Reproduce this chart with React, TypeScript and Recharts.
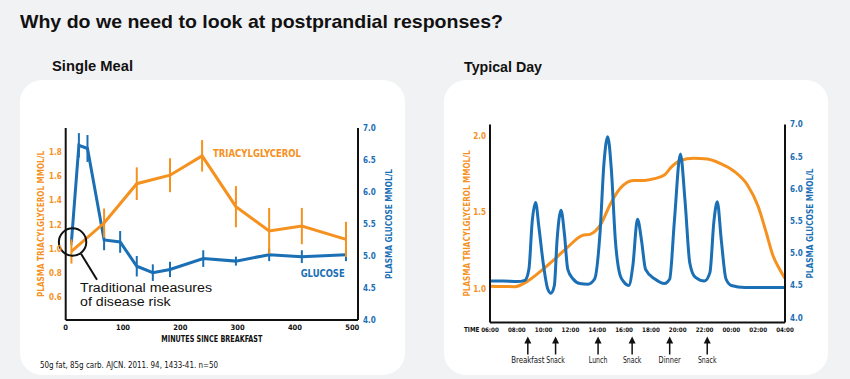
import {
  LineChart,
  Line,
  XAxis,
  YAxis,
  ErrorBar,
  ReferenceDot,
  ReferenceLine,
} from "recharts";

const ORANGE = "#f5911e";
const BLUE = "#1a6fb5";
const INK = "#111";
const SANS = "'Liberation Sans', Arial, sans-serif";
const NARROW =
  "'Liberation Sans Narrow', 'Arial Narrow', 'DejaVu Sans Condensed', 'Liberation Sans', sans-serif";

// single meal: minutes since breakfast
const glucoseMinutes = [10, 23, 38, 67, 95, 124, 152, 182, 240, 297, 355, 412, 489];
const glucoseValues = [5.22, 6.73, 6.68, 5.25, 5.22, 4.84, 4.74, 4.79, 4.96, 4.92, 5.02, 4.99, 5.02];
const glucoseErrors = [0.05, 0.19, 0.21, 0.16, 0.17, 0.16, 0.13, 0.12, 0.13, 0.07, 0.1, 0.1, 0.1];

const tagMinutes = [10, 67, 124, 182, 238, 297, 355, 412, 489];
const tagValues = [0.98, 1.215, 1.54, 1.61, 1.77, 1.35, 1.15, 1.19, 1.08];
const tagErrors = [0.1, 0.12, 0.135, 0.14, 0.13, 0.17, 0.19, 0.15, 0.145];

const minuteTicks = [0, 100, 200, 300, 400, 500];
const mealTagTicks = [0.6, 0.8, 1.0, 1.2, 1.4, 1.6, 1.8];
const mealGlucoseTicks = [4.0, 4.5, 5.0, 5.5, 6.0, 6.5, 7.0];

// typical day: hours since 06:00
const dayGlucoseHours = [
  0, 1, 2, 2.6, 2.9, 3.15, 3.4, 3.65, 4.0, 4.3, 4.55, 4.8, 5.0, 5.3, 5.55, 5.8, 6.2, 6.7, 7.3,
  7.8, 8.2, 8.5, 8.78, 9.05, 9.35, 9.7, 10.0, 10.35, 10.65, 11.0, 11.3, 11.6, 12.3, 13.0, 13.4,
  13.75, 14.2, 14.55, 14.9, 15.3, 16.0, 16.4, 16.7, 16.95, 17.25, 17.6, 18.0, 19.0, 22.0,
];
const dayGlucoseValues = [
  4.57, 4.57, 4.56, 4.58, 4.75, 5.5, 5.79, 5.4, 4.8, 4.45, 4.38, 4.5, 5.2, 5.67, 5.3, 4.75, 4.6,
  4.53, 4.52, 4.6, 5.3, 6.4, 6.81, 6.3, 5.2, 4.66, 4.55, 4.5, 4.8, 5.53, 5.2, 4.75, 4.6, 4.53,
  4.6, 5.5, 6.54, 5.8, 4.85, 4.63, 4.57, 4.7, 5.5, 5.8, 5.2, 4.6, 4.5, 4.47, 4.47,
];

const dayTagHours = [
  0, 1.87, 2.75, 3.74, 4.74, 5.74, 6.86, 7.5, 8.23, 9.0, 9.73, 10.7, 11.5, 12.2, 13.0, 13.5,
  14.2, 15.2, 16.2, 17.2, 18.2, 19.2, 20.0, 20.6, 21.1, 21.6, 22.0,
];
const dayTagValues = [
  1.02, 1.017, 1.05, 1.115, 1.19, 1.27, 1.35, 1.36, 1.42, 1.56, 1.66, 1.71, 1.71, 1.72, 1.745,
  1.795, 1.84, 1.855, 1.85, 1.82, 1.77, 1.68, 1.54, 1.37, 1.22, 1.13, 1.07,
];

const hourTicks = [0, 2, 4, 6, 8, 10, 12, 14, 16, 18, 20, 22];
const dayTagTicks = [1.0, 1.5, 2.0];
const dayGlucoseTicks = [4.0, 4.5, 5.0, 5.5, 6.0, 6.5, 7.0];

const mealTimes = [2.82, 4.89, 8.06, 10.6, 13.4, 16.2];
const mealLabels = ["Breakfast", "Snack", "Lunch", "Snack", "Dinner", "Snack"];

const glucoseData = glucoseMinutes.map((m, i) => ({ m, v: glucoseValues[i], e: glucoseErrors[i] }));
const tagData = tagMinutes.map((m, i) => ({ m, v: tagValues[i], e: tagErrors[i] }));
const dayGlucoseData = dayGlucoseHours.map((h, i) => ({ h, v: dayGlucoseValues[i] }));
const dayTagData = dayTagHours.map((h, i) => ({ h, v: dayTagValues[i] }));
const mealData = mealTimes.map((h) => ({ h, v: null }));

const clock = (h: number) => String((6 + h) % 24).padStart(2, "0") + ":00";

const axisLabel = (text: string, color: string, dx: number, len: number) => (props: any) => {
  const vb = props.viewBox;
  const cx = vb.x + dx;
  const cy = vb.y + vb.height / 2;
  return (
    <text
      x={cx}
      y={cy}
      transform={`rotate(-90 ${cx} ${cy})`}
      textAnchor="middle"
      dominantBaseline="central"
      fill={color}
      fontSize={9.5}
      fontWeight={700}
      fontFamily={NARROW}
      textLength={len}
      lengthAdjust="spacingAndGlyphs"
    >
      {text}
    </text>
  );
};

const MealTick = (props: any) => {
  const { x, y, payload } = props;
  const label = mealLabels[mealTimes.indexOf(payload.value)] || "";
  return (
    <g>
      <line x1={x} y1={y + 4} x2={x} y2={y + 18} stroke={INK} strokeWidth={1.5} />
      <path d={`M${x - 3.5},${y + 7} L${x},${y} L${x + 3.5},${y + 7} Z`} fill={INK} />
      <text
        x={x}
        y={y + 26}
        textAnchor="middle"
        fontSize={8.5}
        fontFamily={NARROW}
        fill={INK}
        textLength={label.length * 3.7}
        lengthAdjust="spacingAndGlyphs"
      >
        {label}
      </text>
    </g>
  );
};

const tickStyle = (color: string, size: number) => ({
  fill: color,
  fontSize: size,
  fontWeight: 700,
  fontFamily: NARROW,
});

const panel = (left: number, width: number) => ({
  position: "absolute" as const,
  left,
  top: 80,
  width,
  height: 295,
  background: "#fff",
  borderRadius: 22,
});

export default function App() {
  return (
    <div
      style={{
        position: "absolute",
        left: 0,
        top: 0,
        width: 850,
        height: 379,
        background: "#f1f2f4",
        overflow: "hidden",
        fontFamily: SANS,
      }}
    >
      <div style={panel(20, 385)} />
      <div style={panel(444, 384)} />

      <div style={{ position: "absolute", left: 20, top: 80 }}>
        <LineChart width={385} height={295} margin={{ top: 48, right: 17, bottom: 29, left: 15.7 }}>
          <XAxis
            type="number"
            dataKey="m"
            domain={[0, 510]}
            ticks={minuteTicks}
            interval={0}
            tickLine={false}
            tickSize={0}
            tickMargin={5}
            height={26}
            axisLine={{ stroke: INK, strokeWidth: 2 }}
            tick={tickStyle(INK, 7.5)}
            label={{
              content: (p: any) => (
                <text
                  x={p.viewBox.x + p.viewBox.width / 2}
                  y={p.viewBox.y + 22.3}
                  textAnchor="middle"
                  fontSize={8.5}
                  fontWeight={700}
                  fontFamily={NARROW}
                  fill={INK}
                  textLength={101}
                  lengthAdjust="spacingAndGlyphs"
                >
                  MINUTES SINCE BREAKFAST
                </text>
              ),
            }}
          />
          <YAxis
            yAxisId="left"
            type="number"
            domain={[0.414, 2.0]}
            ticks={mealTagTicks}
            interval={0}
            width={30}
            tickLine={false}
            tickSize={0}
            tickMargin={4}
            axisLine={{ stroke: INK, strokeWidth: 2 }}
            tick={tickStyle(ORANGE, 8)}
            tickFormatter={(v: number) => v.toFixed(1)}
            label={{ content: axisLabel("PLASMA TRIACYLGLYCEROL MMOL/L", ORANGE, 4.3, 146) }}
          />
          <YAxis
            yAxisId="right"
            orientation="right"
            type="number"
            domain={[4, 7]}
            ticks={mealGlucoseTicks}
            interval={0}
            width={30}
            tickLine={false}
            tickSize={0}
            tickMargin={5}
            axisLine={{ stroke: INK, strokeWidth: 2 }}
            tick={tickStyle(BLUE, 8)}
            tickFormatter={(v: number) => v.toFixed(1)}
            label={{ content: axisLabel("PLASMA GLUCOSE MMOL/L", BLUE, 30, 110) }}
          />
          <Line
            yAxisId="right"
            data={glucoseData}
            dataKey="v"
            type="linear"
            stroke={BLUE}
            strokeWidth={3}
            dot={false}
            isAnimationActive={false}
          >
            <ErrorBar dataKey="e" direction="y" width={0} stroke={BLUE} strokeWidth={2} isAnimationActive={false} />
          </Line>
          <Line
            yAxisId="left"
            data={tagData}
            dataKey="v"
            type="linear"
            stroke={ORANGE}
            strokeWidth={3}
            dot={false}
            isAnimationActive={false}
          >
            <ErrorBar dataKey="e" direction="y" width={0} stroke={ORANGE} strokeWidth={2} isAnimationActive={false} />
          </Line>
          <ReferenceDot yAxisId="left" x={12} y={1.058} r={13.7} fill="none" stroke={INK} strokeWidth={2} />
          <ReferenceLine
            yAxisId="left"
            segment={[
              { x: 26.7, y: 0.961 },
              { x: 54.6, y: 0.746 },
            ]}
            stroke={INK}
            strokeWidth={2}
          />
        </LineChart>
      </div>

      <div style={{ position: "absolute", left: 444, top: 80 }}>
        <LineChart width={384} height={295} margin={{ top: 44.5, right: 13, bottom: 8.5, left: 16 }}>
          <XAxis
            type="number"
            dataKey="h"
            domain={[0, 22]}
            ticks={hourTicks}
            interval={0}
            tickLine={false}
            tickSize={0}
            tickMargin={5}
            height={14}
            axisLine={{ stroke: INK, strokeWidth: 2 }}
            tick={tickStyle(INK, 6.2)}
            tickFormatter={clock}
          />
          <XAxis
            xAxisId="meals"
            type="number"
            dataKey="h"
            domain={[0, 22]}
            ticks={mealTimes}
            interval={0}
            axisLine={false}
            tickLine={false}
            tickSize={0}
            tickMargin={0}
            height={30}
            tick={<MealTick />}
          />
          <YAxis
            yAxisId="left"
            type="number"
            domain={[0.783, 2.075]}
            ticks={dayTagTicks}
            interval={0}
            width={30}
            tickLine={false}
            tickSize={0}
            tickMargin={4}
            axisLine={{ stroke: INK, strokeWidth: 2 }}
            tick={tickStyle(ORANGE, 8)}
            tickFormatter={(v: number) => v.toFixed(1)}
            label={{ content: axisLabel("PLASMA TRIACYLGLYCEROL MMOL/L", ORANGE, 6.7, 146) }}
          />
          <YAxis
            yAxisId="right"
            orientation="right"
            type="number"
            domain={[3.925, 7.0]}
            ticks={dayGlucoseTicks}
            interval={0}
            width={30}
            tickLine={false}
            tickSize={0}
            tickMargin={5}
            axisLine={{ stroke: INK, strokeWidth: 2 }}
            tick={tickStyle(BLUE, 8)}
            tickFormatter={(v: number) => v.toFixed(1)}
            label={{ content: axisLabel("PLASMA GLUCOSE MMOL/L", BLUE, 24, 110) }}
          />
          <Line
            yAxisId="left"
            data={dayTagData}
            dataKey="v"
            type="monotone"
            stroke={ORANGE}
            strokeWidth={3}
            dot={false}
            isAnimationActive={false}
          />
          <Line
            yAxisId="right"
            data={dayGlucoseData}
            dataKey="v"
            type="monotone"
            stroke={BLUE}
            strokeWidth={3}
            dot={false}
            isAnimationActive={false}
          />
          <Line
            xAxisId="meals"
            yAxisId="left"
            data={mealData}
            dataKey="v"
            stroke="none"
            dot={false}
            legendType="none"
            isAnimationActive={false}
          />
        </LineChart>
      </div>

      <svg width={850} height={379} style={{ position: "absolute", left: 0, top: 0, pointerEvents: "none" }}>
        <text x={20} y={28} fontSize={19} fontWeight={700} fontFamily={SANS} fill={INK} textLength={483} lengthAdjust="spacingAndGlyphs">
          Why do we need to look at postprandial responses?
        </text>
        <text x={52} y={71} fontSize={15} fontWeight={700} fontFamily={SANS} fill={INK} textLength={81} lengthAdjust="spacingAndGlyphs">
          Single Meal
        </text>
        <text x={464} y={72} fontSize={15} fontWeight={700} fontFamily={SANS} fill={INK} textLength={78} lengthAdjust="spacingAndGlyphs">
          Typical Day
        </text>
        <text x={213} y={156.5} fontSize={11} fontWeight={700} fontFamily={NARROW} fill={ORANGE} textLength={88} lengthAdjust="spacingAndGlyphs">
          TRIACYLGLYCEROL
        </text>
        <text x={300.7} y={276.5} fontSize={11} fontWeight={700} fontFamily={NARROW} fill={BLUE} textLength={44} lengthAdjust="spacingAndGlyphs">
          GLUCOSE
        </text>
        <text x={80} y={292} fontSize={12.5} fontFamily={SANS} fill={INK} textLength={132} lengthAdjust="spacingAndGlyphs">
          Traditional measures
        </text>
        <text x={80} y={306} fontSize={12.5} fontFamily={SANS} fill={INK} textLength={90.7} lengthAdjust="spacingAndGlyphs">
          of disease risk
        </text>
        <text x={40} y={368} fontSize={8.5} fontFamily={NARROW} fill={INK} textLength={178} lengthAdjust="spacingAndGlyphs">
          50g fat, 85g carb. AJCN. 2011. 94, 1433-41. n=50
        </text>
        <text x={464} y={331.5} fontSize={7} fontWeight={700} fontFamily={NARROW} fill={INK} textLength={15.5} lengthAdjust="spacingAndGlyphs">
          TIME
        </text>
      </svg>
    </div>
  );
}
